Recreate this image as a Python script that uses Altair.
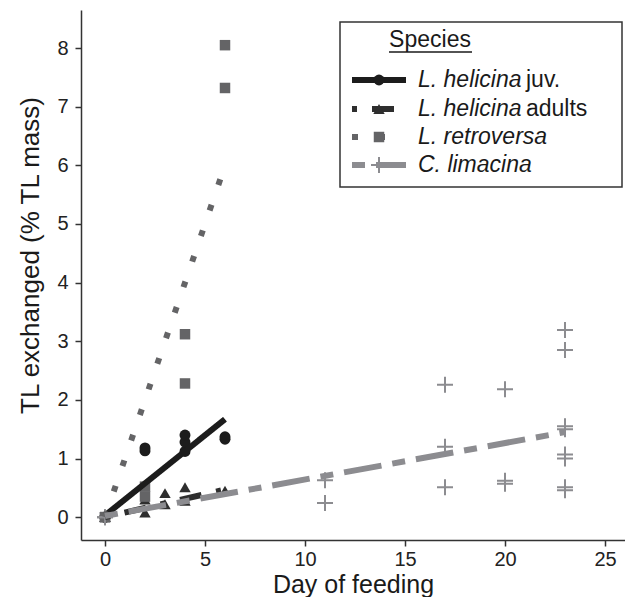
import altair as alt
import pandas as pd

# ---------------- data ----------------
juv_day = [0, 0, 0, 2, 2, 4, 4, 4, 6, 6]
juv_val = [0, 0, 0, 1.13, 1.18, 1.12, 1.28, 1.40, 1.33, 1.37]

adult_day = [0, 0, 2, 2, 3, 3, 4, 4, 6]
adult_val = [0, 0, 0.08, 0.30, 0.41, 0.22, 0.51, 0.28, 0.45]

retro_day = [0, 0, 2, 2, 4, 4, 6, 6]
retro_val = [0, 0, 0.35, 0.52, 2.28, 3.12, 7.32, 8.05]

lim_day = [0, 0, 11, 11, 17, 17, 17, 20, 20, 20, 23, 23, 23, 23, 23, 23, 23, 23]
lim_val = [0, 0, 0.24, 0.63, 0.51, 1.20, 2.26, 0.57, 0.62, 2.18,
           0.46, 0.51, 1.00, 1.07, 1.50, 1.55, 2.85, 3.19]

# fitted regression lines: start/end (day, value)
fit_species = ["juv", "adults", "retro", "lim"]
fit_x0 = [0, 0, 0, 0]
fit_y0 = [0.03, 0.0, 0.0, 0.02]
fit_x1 = [6, 6, 6, 23]
fit_y1 = [1.67, 0.47, 6.0, 1.45]

legend_italic = ["L. helicina", "L. helicina", "L. retroversa", "C. limacina"]
legend_normal = [" juv.", " adults", "", ""]

x_ticks = [0, 5, 10, 15, 20, 25]
y_ticks = [0, 1, 2, 3, 4, 5, 6, 7, 8]

# ---------------- styles ----------------
FONT = "Liberation Sans"
COL = {"juv": "#1c1c1c", "adults": "#2e2e2e", "retro": "#646466", "lim": "#8c8c90"}
DASH = {"juv": [1, 0], "adults": [5, 15, 22, 15], "retro": [6, 21], "lim": [13, 11, 38, 11]}
PLUS = "M-1,0H1M0,-1V1"
LFS = 23  # legend font size

W, H = 544, 530
xs = alt.Scale(domain=[-1.2, 26.0], nice=False, zero=False)
ys = alt.Scale(domain=[-0.39, 8.65], nice=False, zero=False)

X = alt.X("day:Q", scale=xs, axis=alt.Axis(values=x_ticks, title="Day of feeding",
                                            titlePadding=3, labelPadding=3,
                                            titleFontSize=25))
Y = alt.Y("val:Q", scale=ys, axis=alt.Axis(values=y_ticks, title="TL exchanged (% TL mass)",
                                            labelPadding=7, titleX=-43, titleY=245,
                                            titleBaseline="alphabetic", titleFontSize=26))


def pts(days, vals):
    return pd.DataFrame({"day": days, "val": vals})


p_juv = alt.Chart(pts(juv_day, juv_val)).mark_point(
    shape="circle", filled=True, size=120, color=COL["juv"], opacity=1).encode(x=X, y=Y)
p_ad = alt.Chart(pts(adult_day, adult_val)).mark_point(
    shape="triangle-up", filled=True, size=130, color=COL["adults"], opacity=1).encode(x=X, y=Y)
p_re = alt.Chart(pts(retro_day, retro_val)).mark_point(
    shape="square", filled=True, size=110, color=COL["retro"], opacity=1).encode(x=X, y=Y)
p_li = alt.Chart(pts(lim_day, lim_val)).mark_point(
    shape=PLUS, filled=False, size=256, strokeWidth=2, color=COL["lim"], opacity=1).encode(x=X, y=Y)

fit_layers = []
for i, sp in enumerate(fit_species):
    df = pd.DataFrame({"day": [fit_x0[i], fit_x1[i]], "val": [fit_y0[i], fit_y1[i]]})
    fit_layers.append(
        alt.Chart(df).mark_line(color=COL[sp], strokeWidth=6, strokeDash=DASH[sp],
                                strokeCap="butt").encode(x=X, y=Y)
    )

# ---------------- manual legend (pixel positions in plot area) ----------------
one = pd.DataFrame({"a": [0]})
row_y = [70, 99, 127, 155]
legend_layers = [
    alt.Chart(one).mark_rect(fill="white", stroke="#333333", strokeWidth=1.5).encode(
        x=alt.value(259), x2=alt.value(541), y=alt.value(12), y2=alt.value(177)),
    alt.Chart(one).mark_text(text="Species", font=FONT, fontSize=LFS, align="center",
                             baseline="alphabetic", color="#1a1a1a").encode(
        x=alt.value(349), y=alt.value(37)),
    alt.Chart(one).mark_rule(color="#1a1a1a", strokeWidth=1.3).encode(
        x=alt.value(308), x2=alt.value(391), y=alt.value(42)),
]
shapes = {"juv": ("circle", True, 120, 0), "adults": ("triangle-up", True, 130, 0),
          "retro": ("square", True, 110, 0), "lim": (PLUS, False, 256, 2)}
for i, sp in enumerate(fit_species):
    yy = row_y[i]
    legend_layers.append(
        alt.Chart(one).mark_rule(color=COL[sp], strokeWidth=6, strokeDash=DASH[sp],
                                 strokeCap="butt").encode(
            x=alt.value(271), x2=alt.value(325), y=alt.value(yy)))
    shp, fill, size, sw = shapes[sp]
    kw = dict(shape=shp, filled=fill, size=size, color=COL[sp], opacity=1)
    if sw:
        kw["strokeWidth"] = sw
    legend_layers.append(
        alt.Chart(one).mark_point(**kw).encode(x=alt.value(298), y=alt.value(yy)))
    legend_layers.append(
        alt.Chart(one).mark_text(text=legend_italic[i], font=FONT, fontSize=LFS,
                                 fontStyle="italic", align="left", baseline="alphabetic",
                                 color="#1a1a1a").encode(x=alt.value(337), y=alt.value(yy + 7)))
    if legend_normal[i]:
        legend_layers.append(
            alt.Chart(one).mark_text(text=legend_normal[i], font=FONT, fontSize=LFS,
                                     align="left", baseline="alphabetic",
                                     color="#1a1a1a").encode(
                x=alt.value(337 + 108), y=alt.value(yy + 7)))

chart = alt.layer(p_juv, p_ad, p_re, p_li, *fit_layers, *legend_layers).properties(
    width=W, height=H,
    padding={"left": 73, "top": 2, "right": 0, "bottom": 57},
    autosize=alt.AutoSizeParams(type="none"),
).configure_view(stroke=None).configure_axis(
    grid=False, domainColor="#333333", domainWidth=1.5, tickColor="#333333",
    tickWidth=1.5, tickSize=6, labelFont=FONT, labelFontSize=20, labelColor="#222222",
    titleFont=FONT, titleFontWeight="normal", titleColor="#1a1a1a",
)

chart.save("out.html", embed_options={"renderer": "svg", "actions": False})
